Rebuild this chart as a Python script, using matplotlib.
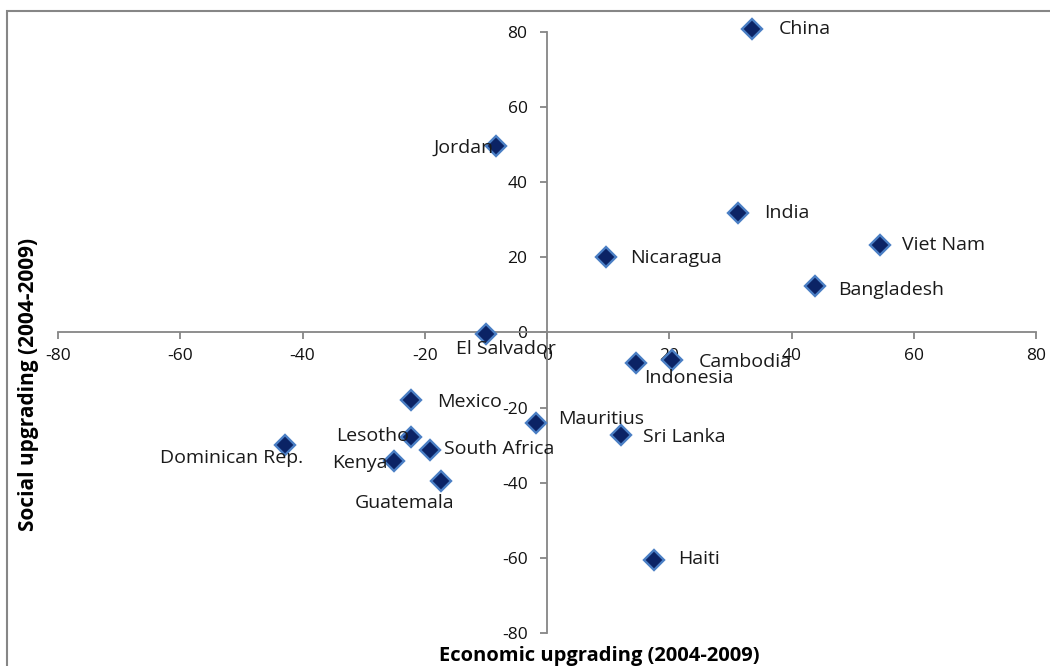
import matplotlib
matplotlib.use("Agg")
import matplotlib.pyplot as plt
from matplotlib.patches import Rectangle

# data
countries = ["China", "Jordan", "India", "Viet Nam", "Nicaragua", "Bangladesh",
             "El Salvador", "Indonesia", "Cambodia", "Mexico", "Mauritius",
             "Lesotho", "Sri Lanka", "South Africa", "Dominican Rep.", "Kenya",
             "Guatemala", "Haiti"]
economic = [33.6, -8.3, 31.2, 54.4, 9.6, 43.8,
            -10.0, 14.5, 20.5, -22.2, -1.8,
            -22.2, 12.1, -19.1, -42.8, -25.1,
            -17.3, 17.5]
social = [80.8, 49.6, 31.9, 23.4, 20.0, 12.5,
          -0.5, -8.2, -7.4, -18.1, -24.0,
          -27.7, -27.4, -31.4, -29.9, -34.3,
          -39.6, -60.6]

# label placement: (dx px, dy px, ha)
label_pos = {
    "China": (26, 0, "left"), "Jordan": (-3, -2, "right"),
    "India": (26, 0, "left"), "Viet Nam": (22, 0, "left"),
    "Nicaragua": (24, -1, "left"), "Bangladesh": (23, -4, "left"),
    "El Salvador": (20, -15, "center"), "Indonesia": (53, -15, "center"),
    "Cambodia": (26, -2, "left"), "Mexico": (26, -2, "left"),
    "Mauritius": (22, 4, "left"), "Lesotho": (-2, 1, "right"),
    "Sri Lanka": (22, -2, "left"), "South Africa": (14, 1, "left"),
    "Dominican Rep.": (18, -13, "right"), "Kenya": (-6, -2, "right"),
    "Guatemala": (-37, -22, "center"), "Haiti": (24, 1, "left"),
}

ticks = [-80, -60, -40, -20, 0, 20, 40, 60, 80]
axis_grey = "#868686"

plt.rcParams["font.family"] = ["Open Sans", "DejaVu Sans"]
plt.rcParams["axes.unicode_minus"] = False

W, H = 1050, 666
fig = plt.figure(figsize=(W / 100, H / 100), dpi=100)
ax = fig.add_axes([58 / W, 1 - 633 / H, (1036 - 58) / W, (633 - 32) / H])

ax.plot(economic, social, linestyle="none", marker="D", markersize=10.5,
        markerfacecolor="#0B2365", markeredgecolor="#4A7EC4",
        markeredgewidth=1.7, zorder=3, clip_on=False)

for name, x, y in zip(countries, economic, social):
    dx, dy, ha = label_pos[name]
    ax.annotate(name, (x, y), xytext=(dx, dy), textcoords="offset pixels",
                ha=ha, va="center", fontsize=14, color="#1a1a1a", zorder=4,
                annotation_clip=False)

ax.set_xlim(-80, 80)
ax.set_ylim(-80, 80)
ax.set_xticks(ticks)
ax.set_yticks(ticks)
ax.spines["left"].set_position("zero")
ax.spines["bottom"].set_position("zero")
ax.spines["top"].set_visible(False)
ax.spines["right"].set_visible(False)
for side in ["left", "bottom"]:
    ax.spines[side].set_color(axis_grey)
    ax.spines[side].set_linewidth(1.3)
ax.tick_params(axis="both", direction="out", length=5, width=1.3,
               color=axis_grey, labelsize=12.5, labelcolor="#111111")
ax.tick_params(axis="y", pad=9)
ax.tick_params(axis="x", pad=6)
ax.patch.set_alpha(0)

fig.text(599 / W, 1 - 656 / H, "Economic upgrading (2004-2009)",
         ha="center", va="center", fontsize=14.5, fontweight="bold")
fig.text(29 / W, 1 - 384 / H, "Social upgrading (2004-2009)",
         ha="center", va="center", fontsize=15, fontweight="bold",
         rotation=90)

# chart area border (cut off at the right and bottom in the reference)
fig.patches.append(Rectangle((7 / W, -0.1), 1.2, 1 - 11 / H + 0.1,
                             transform=fig.transFigure, fill=False,
                             edgecolor=axis_grey, linewidth=1.5))

fig.savefig("out.png", dpi=100)
